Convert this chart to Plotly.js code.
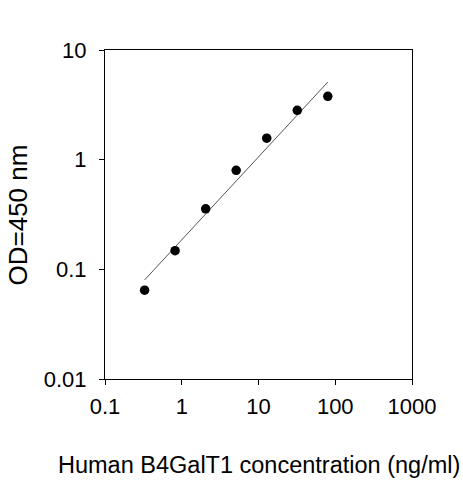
<!DOCTYPE html>
<html>
<head>
<meta charset="utf-8">
<script src="https://cdn.plot.ly/plotly-3.0.1.min.js"></script>
<style>html,body{margin:0;padding:0;background:#fff;}#chart{width:463px;height:480px;}</style>
</head>
<body>
<div id="chart"></div>
<script>
const concentration = [0.328, 0.819, 2.05, 5.12, 12.8, 32, 80];
const od450 = [0.0645, 0.148, 0.356, 0.80, 1.57, 2.82, 3.78];
const fitX = [0.328, 80];
const fitY = [0.080, 5.1];
const xTickVals = [0.1, 1, 10, 100, 1000];
const xTickText = ['0.1', '1', '10', '100', '1000'];
const yTickVals = [0.01, 0.1, 1, 10];
const yTickText = ['0.01', '0.1', '1', '10'];

const font = {family: 'Liberation Sans, Arial, sans-serif', color: '#000'};

const traces = [
  {x: fitX, y: fitY, mode: 'lines', type: 'scatter',
   line: {color: '#555', width: 1}, hoverinfo: 'skip'},
  {x: concentration, y: od450, mode: 'markers', type: 'scatter',
   marker: {color: '#000', size: 9.5}}
];

const layout = {
  width: 463, height: 480,
  margin: {l: 105, r: 51, t: 50, b: 101},
  paper_bgcolor: '#fff', plot_bgcolor: '#fff',
  showlegend: false,
  font: Object.assign({size: 22}, font),
  xaxis: {
    type: 'log', range: [-1, 3],
    tickvals: xTickVals, ticktext: xTickText,
    showgrid: false, zeroline: false,
    showline: true, linecolor: '#000', linewidth: 1, mirror: true,
    ticks: 'outside', ticklen: 5, tickcolor: '#000', tickwidth: 1,
    tickfont: Object.assign({size: 22}, font),
    ticklabelstandoff: 3
  },
  yaxis: {
    type: 'log', range: [-2, 1],
    tickvals: yTickVals, ticktext: yTickText,
    showgrid: false, zeroline: false,
    showline: true, linecolor: '#000', linewidth: 1, mirror: true,
    ticks: 'outside', ticklen: 5, tickcolor: '#000', tickwidth: 1,
    tickfont: Object.assign({size: 22}, font),
    ticklabelstandoff: 8
  },
  annotations: [{
    text: 'Human B4GalT1 concentration (ng/ml)',
    xref: 'paper', yref: 'paper',
    x: 0.5, y: -(465 - 379) / 329,
    xanchor: 'center', yanchor: 'middle',
    showarrow: false,
    font: Object.assign({size: 23.5}, font)
  }, {
    text: 'OD=450 nm',
    xref: 'paper', yref: 'paper',
    x: (17 - 105) / 307, y: 0.5 - (215.5 - 214.5) / 329,
    xanchor: 'center', yanchor: 'middle', textangle: -90,
    showarrow: false,
    font: Object.assign({size: 26}, font)
  }]
};

Plotly.newPlot('chart', traces, layout, {displayModeBar: false, staticPlot: true});
</script>
</body>
</html>
